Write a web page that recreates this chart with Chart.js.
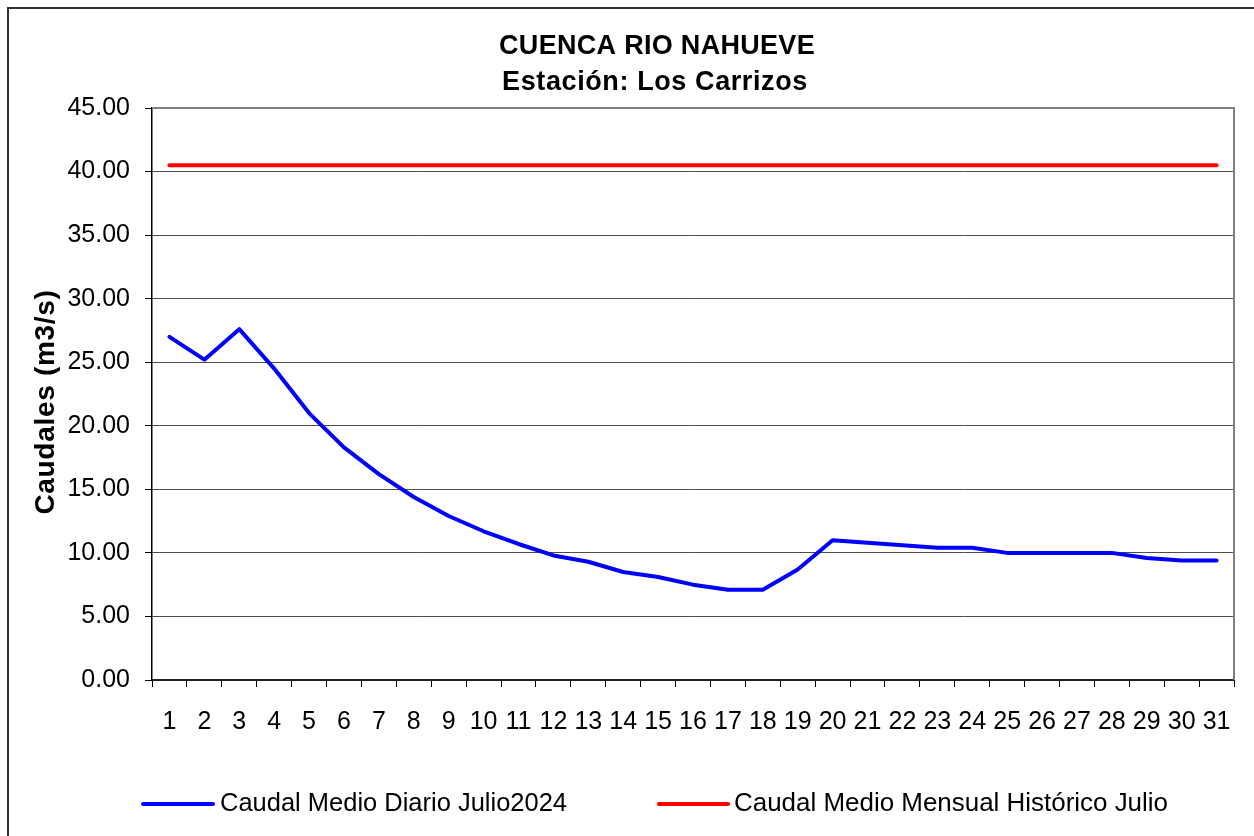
<!DOCTYPE html>
<html>
<head>
<meta charset="utf-8">
<script src="https://cdn.jsdelivr.net/npm/chart.js@4"></script>
<style>
  html, body { margin: 0; padding: 0; background: #fff; overflow: hidden; }
  #wrap { position: absolute; left: 0; top: 0; width: 1312px; height: 880px; }
</style>
</head>
<body>
<div id="wrap"><canvas id="chart" width="1312" height="880"></canvas></div>
<script>
// päivät 1..31
const days = ['1','2','3','4','5','6','7','8','9','10','11','12','13','14','15','16',
  '17','18','19','20','21','22','23','24','25','26','27','28','29','30','31'];

// Caudal medio diario julio 2024 (m3/s), luettu kuvasta
const dailyFlow = [27.0, 25.2, 27.6, 24.5, 21.0, 18.3, 16.2, 14.4, 12.9, 11.7, 10.7,
  9.8, 9.3, 8.5, 8.1, 7.5, 7.1, 7.1, 8.7, 11.0, 10.8, 10.6, 10.4, 10.4,
  10.0, 10.0, 10.0, 10.0, 9.6, 9.4, 9.4];

// Caudal medio mensual histórico julio
const historicFlow = [40.5, 40.5, 40.5, 40.5, 40.5, 40.5, 40.5, 40.5, 40.5, 40.5, 40.5,
  40.5, 40.5, 40.5, 40.5, 40.5, 40.5, 40.5, 40.5, 40.5, 40.5, 40.5, 40.5, 40.5,
  40.5, 40.5, 40.5, 40.5, 40.5, 40.5, 40.5];

const seriesNames = ['Caudal Medio Diario Julio2024', 'Caudal Medio Mensual Histórico Julio'];
const titleLines = ['CUENCA RIO NAHUEVE', 'Estación: Los Carrizos'];
const yTitle = 'Caudales (m3/s)';

const FONT = '"Liberation Sans", Arial, sans-serif';

// Kehykset, otsikot ja selite piirretään itse
const decorPlugin = {
  id: 'decor',
  beforeDraw(chart) {
    const ctx = chart.ctx;
    ctx.save();
    ctx.strokeStyle = '#333';
    ctx.lineWidth = 2;
    ctx.strokeRect(8, 8, chart.width - 16, chart.height - 16);
    ctx.restore();
  },
  beforeDatasetsDraw(chart) {
    const { ctx, chartArea: a } = chart;
    ctx.save();
    ctx.strokeStyle = '#808080';
    ctx.lineWidth = 2;
    ctx.beginPath();
    ctx.moveTo(a.left, a.top);
    ctx.lineTo(a.right, a.top);
    ctx.lineTo(a.right, a.bottom);
    ctx.stroke();
    ctx.restore();
  },
  afterDraw(chart) {
    const ctx = chart.ctx;
    ctx.save();
    ctx.fillStyle = '#000';
    ctx.textAlign = 'center';
    ctx.textBaseline = 'middle';

    // otsikko
    ctx.font = 'bold 27px ' + FONT;
    ctx.letterSpacing = '0.3px';
    ctx.fillText(titleLines[0], 657, 47);
    ctx.letterSpacing = '0.6px';
    ctx.fillText(titleLines[1], 655, 83);

    // y-akselin otsikko
    ctx.save();
    ctx.translate(46, 402);
    ctx.rotate(-Math.PI / 2);
    ctx.font = 'bold 28px ' + FONT;
    ctx.letterSpacing = '0.7px';
    ctx.fillText(yTitle, 0, 0);
    ctx.restore();

    // selite
    ctx.letterSpacing = '0px';
    const items = [
      { x1: 143, x2: 213, tx: 220, w: 347 },
      { x1: 659, x2: 728, tx: 734, w: 434 }
    ];
    const ly = 804;
    items.forEach((it, i) => {
      const ds = chart.data.datasets[i];
      ctx.strokeStyle = ds.borderColor;
      ctx.lineWidth = 4;
      ctx.lineCap = 'round';
      ctx.beginPath();
      ctx.moveTo(it.x1, ly);
      ctx.lineTo(it.x2, ly);
      ctx.stroke();
      ctx.font = '26px ' + FONT;
      ctx.textAlign = 'left';
      ctx.fillText(seriesNames[i], it.tx, ly, it.w);
    });
    ctx.restore();
  }
};

new Chart(document.getElementById('chart'), {
  type: 'line',
  data: {
    labels: days,
    datasets: [
      {
        label: seriesNames[0],
        data: dailyFlow,
        borderColor: '#0000ff',
        borderWidth: 4,
        borderCapStyle: 'round',
        borderJoinStyle: 'round',
        pointRadius: 0,
        tension: 0,
        fill: false
      },
      {
        label: seriesNames[1],
        data: historicFlow,
        borderColor: '#ff0000',
        borderWidth: 4,
        borderCapStyle: 'round',
        pointRadius: 0,
        tension: 0,
        fill: false
      }
    ]
  },
  options: {
    responsive: false,
    animation: false,
    devicePixelRatio: 1,
    layout: { padding: { left: 8, top: 108, right: 78, bottom: 130 } },
    plugins: {
      legend: { display: false },
      title: { display: false },
      tooltip: { enabled: false }
    },
    scales: {
      x: {
        offset: true,
        afterFit(scale) { scale.height = 70; },
        grid: {
          offset: true,
          drawOnChartArea: false,
          tickLength: 7,
          tickColor: '#000'
        },
        border: { color: '#222', width: 2 },
        ticks: {
          color: '#000',
          font: { family: FONT, size: 25 },
          padding: 20,
          maxRotation: 0,
          autoSkip: false
        }
      },
      y: {
        min: 0,
        max: 45,
        afterFit(scale) { scale.width = 144; },
        grid: {
          color: (c) => (c.tick && c.tick.value === 45) ? 'rgba(0,0,0,0)' : '#4d4d4d',
          lineWidth: 1,
          tickLength: 7,
          tickColor: '#000'
        },
        border: { color: '#000', width: 1.5 },
        ticks: {
          stepSize: 5,
          color: '#000',
          font: { family: FONT, size: 25 },
          padding: 15,
          callback: (v) => Number(v).toFixed(2)
        }
      }
    }
  },
  plugins: [decorPlugin]
});
</script>
</body>
</html>
